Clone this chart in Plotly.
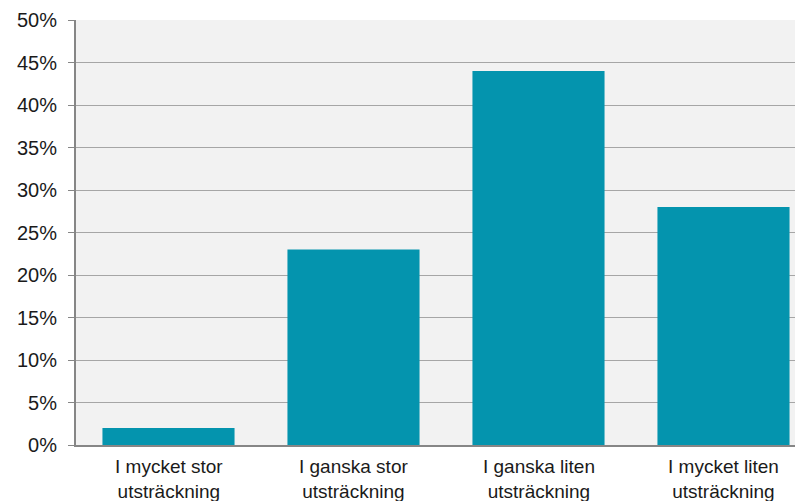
import plotly.graph_objects as go

categories = ["I mycket stor<br>utsträckning", "I ganska stor<br>utsträckning",
              "I ganska liten<br>utsträckning", "I mycket liten<br>utsträckning"]
values = [0.02, 0.23, 0.44, 0.28]
y_ticks = [0, 0.05, 0.10, 0.15, 0.20, 0.25, 0.30, 0.35, 0.40, 0.45, 0.50]
y_tick_labels = ["0%", "5%", "10%", "15%", "20%", "25%", "30%", "35%", "40%", "45%", "50%"]

FONT = "Liberation Sans, Arial, sans-serif"
xs = list(range(len(categories)))

fig = go.Figure(go.Bar(
    x=xs, y=values,
    marker=dict(color="#0494AE", line=dict(width=0)),
    width=0.714,
))

annotations = [
    dict(x=i, xref="x", y=0, yref="paper", text=label, showarrow=False,
         xanchor="center", yanchor="middle", yshift=-34, align="center",
         font=dict(family=FONT, size=19, color="#1a1a1a"))
    for i, label in enumerate(categories)
]

fig.update_layout(
    width=803, height=501,
    margin=dict(l=68, r=0, t=12, b=64),
    paper_bgcolor="white",
    plot_bgcolor="#F2F2F2",
    font=dict(family=FONT, size=20, color="#1a1a1a"),
    showlegend=False,
    annotations=annotations,
)
fig.update_xaxes(
    range=[-0.5, 3.473],
    tickvals=xs, showticklabels=False,
    showgrid=False, showline=True, linecolor="#868686", linewidth=2,
    ticks="", fixedrange=True,
)
fig.update_yaxes(
    range=[0, 0.5],
    tickvals=y_ticks, ticktext=y_tick_labels,
    showgrid=True, gridcolor="#A6A6A6", gridwidth=1,
    showline=True, linecolor="#868686", linewidth=2,
    ticks="outside", ticklen=6, tickcolor="#868686", tickwidth=1,
    ticklabelstandoff=7,
    tickfont=dict(family=FONT, size=20, color="#1a1a1a"),
    zeroline=False, fixedrange=True,
)

fig.write_html("out.html")
